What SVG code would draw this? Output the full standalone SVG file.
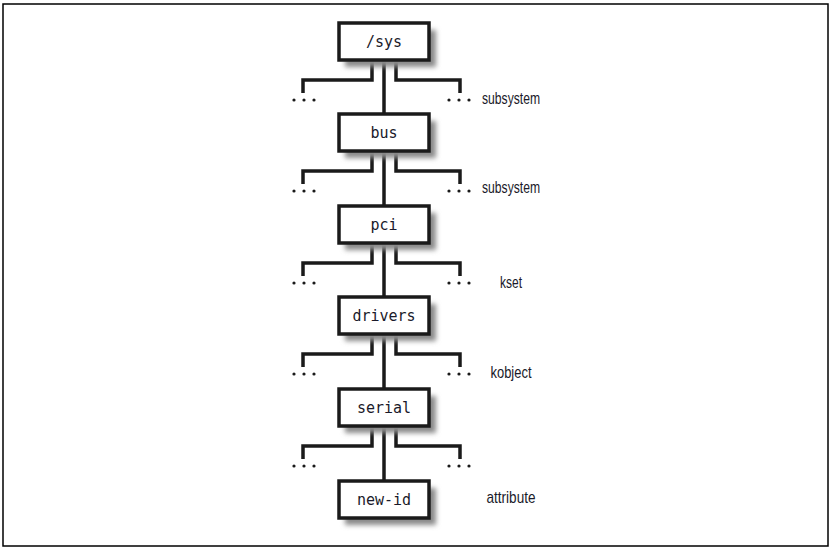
<svg xmlns="http://www.w3.org/2000/svg" width="834" height="551" viewBox="0 0 834 551">
<style>
.box{fill:#fff;stroke:#1a1a1a;stroke-width:3.5}
.sh{fill:#8a8a8a;filter:url(#blur)}
.bt{font-family:"DejaVu Sans Mono","Liberation Mono",monospace;font-size:15px;fill:#1a1a2a;text-anchor:middle}
.lb{font-family:"Liberation Sans Narrow","Liberation Sans",sans-serif;font-size:17px;fill:#1a1a2a;text-anchor:middle}
.ln{fill:none;stroke:#1a1a1a;stroke-width:3.5}
.dot{fill:#1a1a1a}
</style>
<defs>
<filter id="blur" x="-20%" y="-40%" width="140%" height="180%"><feGaussianBlur stdDeviation="2.5"/></filter>
<g id="br">
<path class="ln" d="M372 0 V20 H303 V33 M396 0 V20 H460 V33"/>
<circle class="dot" cx="294" cy="40" r="1.6"/><circle class="dot" cx="304" cy="40" r="1.6"/><circle class="dot" cx="314" cy="40" r="1.6"/>
<circle class="dot" cx="449" cy="40" r="1.6"/><circle class="dot" cx="459" cy="40" r="1.6"/><circle class="dot" cx="469" cy="40" r="1.6"/>
</g>
</defs>
<rect x="3" y="4" width="825" height="542" fill="#fff" stroke="#000" stroke-width="1.5"/>
<g id="connectors">
<line class="ln" x1="384" y1="60" x2="384" y2="482"/>
<use href="#br" y="60"/>
<use href="#br" y="151"/>
<use href="#br" y="243"/>
<use href="#br" y="334"/>
<use href="#br" y="426"/>
</g>
<g id="n-sys"><rect class="sh" x="345" y="30" width="91" height="37"/><rect class="box" x="339" y="23" width="90" height="37"/><text class="bt" x="384" y="47">/sys</text></g>
<g id="n-bus"><rect class="sh" x="345" y="121" width="91" height="37"/><rect class="box" x="339" y="114" width="90" height="37"/><text class="bt" x="384" y="138">bus</text></g>
<g id="n-pci"><rect class="sh" x="345" y="213" width="91" height="37"/><rect class="box" x="339" y="206" width="90" height="37"/><text class="bt" x="384" y="230">pci</text></g>
<g id="n-drivers"><rect class="sh" x="345" y="304" width="91" height="37"/><rect class="box" x="339" y="297" width="90" height="37"/><text class="bt" x="384" y="321">drivers</text></g>
<g id="n-serial"><rect class="sh" x="345" y="396" width="91" height="37"/><rect class="box" x="339" y="389" width="90" height="37"/><text class="bt" x="384" y="413">serial</text></g>
<g id="n-newid"><rect class="sh" x="345" y="488" width="91" height="37"/><rect class="box" x="339" y="481" width="90" height="37"/><text class="bt" x="384" y="505">new-id</text></g>
<g id="labels">
<text class="lb" x="511" y="104" textLength="58" lengthAdjust="spacingAndGlyphs">subsystem</text>
<text class="lb" x="511" y="193" textLength="58" lengthAdjust="spacingAndGlyphs">subsystem</text>
<text class="lb" x="511" y="288" textLength="22" lengthAdjust="spacingAndGlyphs">kset</text>
<text class="lb" x="511" y="378" textLength="41" lengthAdjust="spacingAndGlyphs">kobject</text>
<text class="lb" x="511" y="503" textLength="49" lengthAdjust="spacingAndGlyphs">attribute</text>
</g>
</svg>
